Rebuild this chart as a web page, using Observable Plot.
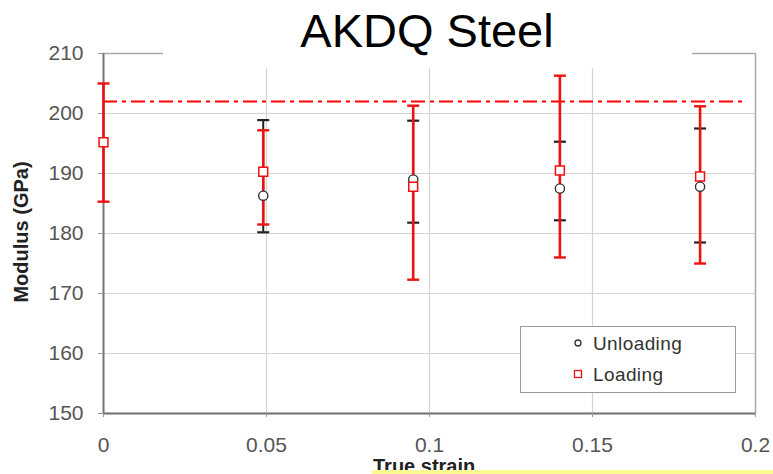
<!DOCTYPE html>
<html>
<head>
<meta charset="utf-8">
<script src="https://cdn.jsdelivr.net/npm/d3@7"></script>
<script src="https://cdn.jsdelivr.net/npm/@observablehq/plot@0.6"></script>
<style>
  html, body { margin: 0; padding: 0; background: #fff; }
  #wrap { position: relative; width: 773px; height: 474px; overflow: hidden; font-family: "Liberation Sans", Arial, sans-serif; }
  #wrap > svg { position: absolute; left: 0; top: 0; }
</style>
</head>
<body>
<div id="wrap"></div>
<script>
// ---- data ----
const strain      = [0, 0.049, 0.095, 0.14, 0.183];
const loading     = [195.2, 190.3, 187.8, 190.5, 189.5];
const loadingLo   = [185.3, 181.5, 172.3, 176.0, 175.0];
const loadingHi   = [205.0, 197.2, 201.3, 206.3, 201.2];
const unloading   = [null, 186.3, 189.0, 187.5, 187.8];
const unloadingLo = [null, 180.2, 181.8, 182.2, 178.5];
const unloadingHi = [null, 198.9, 198.8, 195.3, 197.5];
const refModulus  = 202;
const refStrain   = [0, 0.196];
const xTicks = [0, 0.05, 0.1, 0.15, 0.2];
const xTickLabels = ["0", "0.05", "0.1", "0.15", "0.2"];
const yTicks = [150, 160, 170, 180, 190, 200, 210];
const seriesNames = ["Unloading", "Loading"];
const title = "AKDQ Steel";
const xLabel = "True strain";
const yLabel = "Modulus (GPa)";

const loadData = strain.map((x, i) => ({x, y: loading[i], lo: loadingLo[i], hi: loadingHi[i]}));
const unloadData = strain.map((x, i) => ({x, y: unloading[i], lo: unloadingLo[i], hi: unloadingHi[i]}))
  .filter(d => d.y != null);

const hline = { draw(ctx) { ctx.moveTo(-6, 0); ctx.lineTo(6, 0); } };
const RED = "#ee1111";

const chart = Plot.plot({
  width: 773, height: 474,
  marginLeft: 103, marginRight: 18, marginTop: 53, marginBottom: 61,
  style: { fontFamily: "'Liberation Sans', Arial, sans-serif", fontSize: "21px", color: "#555", background: "white" },
  x: { domain: [0, 0.2] },
  y: { domain: [150, 210] },
  marks: [
    Plot.gridX(xTicks, { stroke: "#d4d4d4", strokeOpacity: 1, strokeWidth: 1.2 }),
    Plot.gridY(yTicks, { stroke: "#d4d4d4", strokeOpacity: 1, strokeWidth: 1.2 }),
    Plot.frame({ stroke: "#aaa", strokeWidth: 1.5 }),
    Plot.ruleX([0], { stroke: "#777", strokeWidth: 1.8 }),
    Plot.ruleY([150], { stroke: "#777", strokeWidth: 1.8 }),
    Plot.axisX({ ticks: xTicks, tickFormat: (d) => xTickLabels[xTicks.indexOf(d)], tickSize: 4, tickPadding: 20, label: null, stroke: "#999" }),
    Plot.axisY({ ticks: yTicks, tickSize: 5, tickPadding: 15, label: null, stroke: "#999" }),
    Plot.ruleY([refModulus], { x1: refStrain[0], x2: refStrain[1], stroke: "#ff0000", strokeWidth: 2, strokeDasharray: "14,5,4,5" }),
    // unloading error bars (black)
    Plot.ruleX(unloadData, { x: "x", y1: "lo", y2: "hi", stroke: "#222", strokeWidth: 2 }),
    Plot.dot(unloadData, { x: "x", y: "lo", symbol: hline, stroke: "#222", strokeWidth: 2.2, fill: "none" }),
    Plot.dot(unloadData, { x: "x", y: "hi", symbol: hline, stroke: "#222", strokeWidth: 2.2, fill: "none" }),
    // loading error bars (red)
    Plot.ruleX(loadData, { x: "x", y1: "lo", y2: "hi", stroke: RED, strokeWidth: 2.6 }),
    Plot.dot(loadData, { x: "x", y: "lo", symbol: hline, stroke: RED, strokeWidth: 2.4, fill: "none" }),
    Plot.dot(loadData, { x: "x", y: "hi", symbol: hline, stroke: RED, strokeWidth: 2.4, fill: "none" }),
    // markers
    Plot.dot(unloadData, { x: "x", y: "y", symbol: "circle", r: 4.6, stroke: "#333", strokeWidth: 1.4, fill: "white" }),
    Plot.dot(loadData, { x: "x", y: "y", symbol: "square", r: 5, stroke: RED, strokeWidth: 1.5, fill: "white" })
  ]
});

const wrap = document.getElementById("wrap");
wrap.appendChild(chart);

// overlay: title patch, legend, axis titles
const ov = d3.select(wrap).append("svg").attr("width", 773).attr("height", 474)
  .style("font-family", "'Liberation Sans', Arial, sans-serif");

ov.append("rect").attr("x", 163).attr("y", 0).attr("width", 529).attr("height", 68).attr("fill", "white");
ov.append("text").attr("x", 427).attr("y", 47).attr("text-anchor", "middle")
  .attr("font-size", 47).attr("fill", "#000").text(title);

// legend
const lg = ov.append("g");
lg.append("rect").attr("x", 520.5).attr("y", 326.5).attr("width", 215).attr("height", 66)
  .attr("fill", "white").attr("stroke", "#999").attr("stroke-width", 1);
lg.append("circle").attr("cx", 578).attr("cy", 343).attr("r", 3).attr("fill", "white").attr("stroke", "#333").attr("stroke-width", 1.3);
lg.append("rect").attr("x", 574.5).attr("y", 370.5).attr("width", 7).attr("height", 7).attr("fill", "white").attr("stroke", RED).attr("stroke-width", 1.3);
lg.append("text").attr("x", 593).attr("y", 350).attr("font-size", 19).attr("fill", "#333").attr("letter-spacing", 0.4).text(seriesNames[0]);
lg.append("text").attr("x", 593).attr("y", 381).attr("font-size", 19).attr("fill", "#333").attr("letter-spacing", 0.4).text(seriesNames[1]);

// y label
ov.append("text").attr("transform", "translate(28,232) rotate(-90)").attr("text-anchor", "middle")
  .attr("font-size", 20).attr("font-weight", "bold").attr("fill", "#222").text(yLabel);
// x label (partly hidden by the highlight strip, as in the reference)
ov.append("text").attr("x", 373).attr("y", 473).attr("font-size", 20).attr("font-weight", "bold").attr("fill", "#222").text(xLabel);
ov.append("rect").attr("x", 372).attr("y", 470).attr("width", 401).attr("height", 4).attr("fill", "#fafa90");
</script>
</body>
</html>
